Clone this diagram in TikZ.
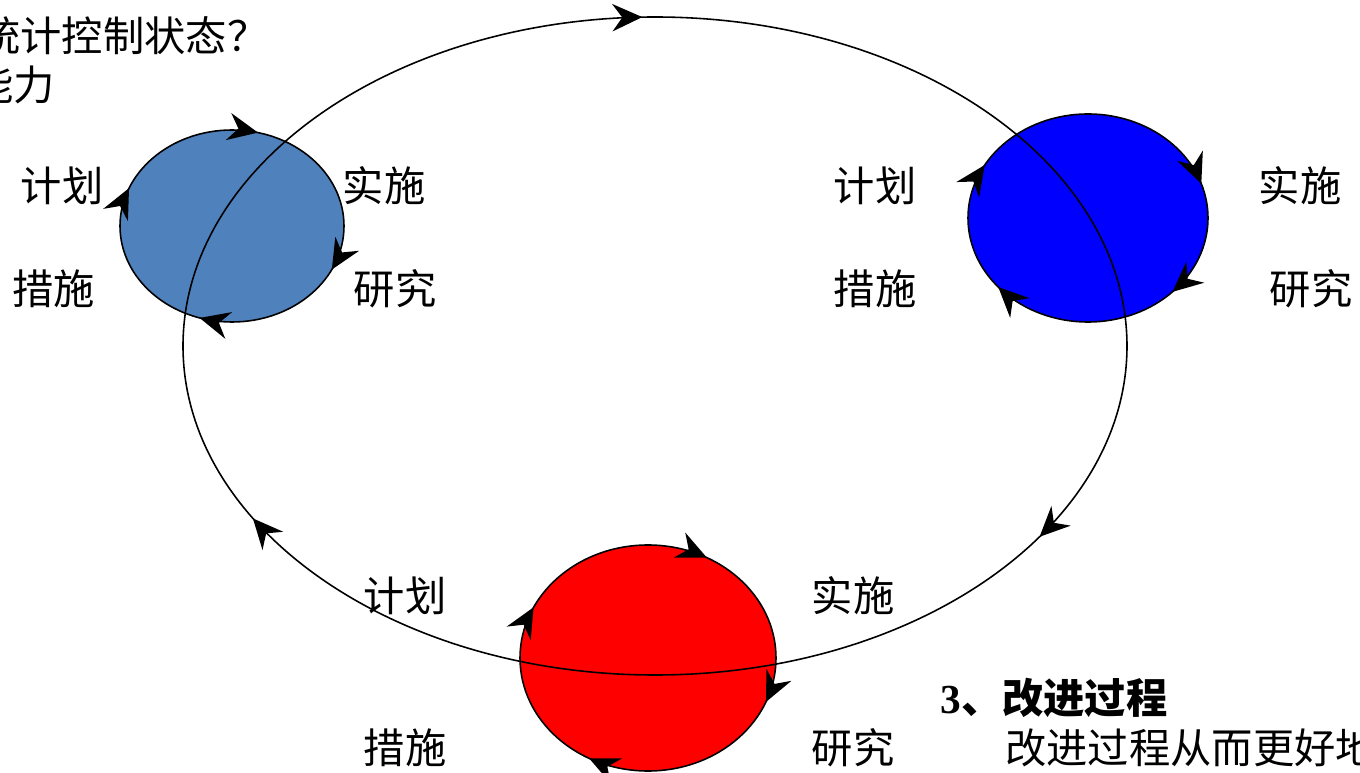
\documentclass[tikz,border=0pt]{standalone}
\usepackage{fontspec}
\setmainfont{Liberation Serif}
\newfontfamily\cjk{Noto Sans CJK SC}
\usetikzlibrary{positioning}
\usetikzlibrary{arrows.meta, decorations.markings}
\definecolor{steel}{RGB}{79,129,189}
\tikzstyle{word}    = [font=\cjk\fontsize{23.5}{28}\selectfont, inner sep=0pt]
\tikzstyle{ring}    = [draw, line width=0.9pt]
\tikzset{tipshape/.tip={Stealth[length=0.6cm, width=0.55cm, inset=0.2cm]}}
\tikzset{turns/.style n args={4}{postaction={decorate}, decoration={markings,
  mark=at position #1 with {\arrow{tipshape}},
  mark=at position #2 with {\arrow{tipshape}},
  mark=at position #3 with {\arrow{tipshape}},
  mark=at position #4 with {\arrow{tipshape}}}}}
\tikzset{turns3/.style n args={3}{postaction={decorate}, decoration={markings,
  mark=at position #1 with {\arrow{tipshape}},
  mark=at position #2 with {\arrow{tipshape}},
  mark=at position #3 with {\arrow{tipshape}}}}}

\begin{document}
\begin{tikzpicture}[x=0.02cm, y=-0.02cm]
\useasboundingbox (0,0) rectangle (1360,773);
\clip (0,0) rectangle (1360,773);
% small cycles
\draw [ring, fill=steel, turns={0.07}{0.30}{0.56}{0.79}] (232,226) ellipse [x radius=112, y radius=96];
\draw [ring, fill=blue, turns={0.12}{0.39}{0.58}{0.95}] (1088,218) ellipse [x radius=120, y radius=104];
\draw [ring, fill=red, turns={0.06}{0.33}{0.57}{0.83}] (648,658) ellipse [x radius=128, y radius=113];
% big cycle
\draw [ring, turns3={0.085}{0.425}{0.745}] (655,346) ellipse [x radius=472, y radius=329];
% labels
\node (plan a) [word] at (62,186) {计划};
\node (do a) [word] at (384,186) {实施};
\node (act a) [word] at (54,289) {措施};
\node (study a) [word] at (395,289) {研究};
\node (plan b) [word] at (875,186) {计划};
\node (do b) [word] at (1300,186) {实施};
\node (act b) [word] at (875,289) {措施};
\node (study b) [word] at (1311,289) {研究};
\node (plan c) [word] at (405,596) {计划};
\node (do c) [word] at (853,596) {实施};
\node (act c) [word] at (405,748) {措施};
\node (study c) [word] at (853,748) {研究};
\node (question) [word, anchor=west] at (-21,36) {统计控制状态？};
\node (ability) [word, anchor=west] at (-28,85) {能力};
\node (step three) [word, anchor=west] at (940,698) {\bfseries{\rmfamily 3}、改进过程};
\node (improve) [word, anchor=west] at (1005,748) {改进过程从而更好地};
\end{tikzpicture}
\end{document}
